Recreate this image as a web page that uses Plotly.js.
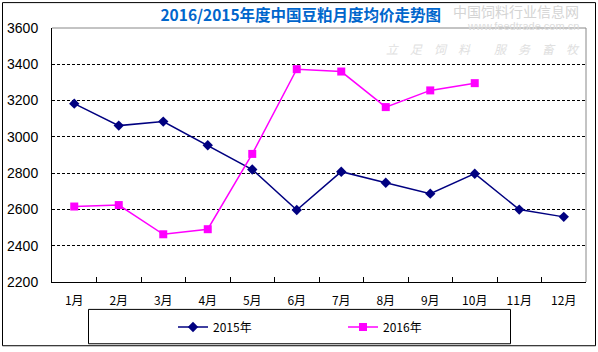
<!DOCTYPE html>
<html><head><meta charset="utf-8">
<script src="https://cdn.plot.ly/plotly-3.0.1.min.js"></script>
<style>html,body{margin:0;padding:0;background:#fff}#chart{width:598px;height:352px}</style>
</head><body><div id="chart"></div>
<script>
const months = ['1月','2月','3月','4月','5月','6月','7月','8月','9月','10月','11月','12月'];
const price2015 = [3183, 3062, 3084, 2954, 2820, 2597, 2808, 2747, 2687, 2797, 2599, 2559];
const price2016 = [2616, 2624, 2463, 2491, 2906, 3373, 3360, 3164, 3256, 3296];
const yTicks = [2200, 2400, 2600, 2800, 3000, 3200, 3400, 3600];

const L = 52, R = 586, T = 28, B = 283;
const px = x => (x - L) / (R - L);
const py = y => (B - y) / (B - T);

const traces = [
  {x: months, y: price2015, name: '2015年', type: 'scatter', mode: 'lines+markers',
   line: {color: '#000080', width: 1.5}, marker: {symbol: 'diamond', size: 8, color: '#000080'}},
  {x: months.slice(0, price2016.length), y: price2016, name: '2016年', type: 'scatter', mode: 'lines+markers',
   line: {color: '#ff00ff', width: 1.5}, marker: {symbol: 'square', size: 8, color: '#ff00ff'}}
];

const layout = {
  width: 598, height: 352,
  margin: {l: L, r: 598 - R, t: T, b: 352 - B},
  paper_bgcolor: '#fff', plot_bgcolor: '#fff',
  showlegend: true,
  title: {text: '<b>2016/2015年度中国豆粕月度均价走势图</b>', x: 0.503, xanchor: 'center', y: 0.955, yanchor: 'middle',
          font: {family: 'Noto Sans CJK SC', size: 15.5, color: '#0066cc'}},
  xaxis: {type: 'category', range: [-0.5, 11.5], showgrid: false, zeroline: false,
          showline: true, linecolor: '#000', linewidth: 1,
          ticks: 'inside', tickson: 'boundaries', ticklen: 5, tickcolor: '#000', ticklabelstandoff: 8,
          tickfont: {family: 'Noto Sans CJK SC', size: 12, color: '#000'}},
  yaxis: {range: [2200, 3600], tickvals: yTicks, showgrid: true, gridcolor: '#000', griddash: '3px,2px', gridwidth: 1,
          zeroline: false, showline: true, linecolor: '#000', linewidth: 1, ticks: '', ticklabelstandoff: 10,
          tickfont: {family: 'Liberation Sans', size: 14, color: '#000'}},
  legend: {orientation: 'h', x: px(173), y: py(327), xanchor: 'left', yanchor: 'middle',
           entrywidth: 125, entrywidthmode: 'pixels', bgcolor: 'rgba(0,0,0,0)',
           font: {family: 'Noto Sans CJK SC', size: 12, color: '#000'}},
  shapes: [
    {type: 'rect', xref: 'paper', yref: 'paper', x0: px(2.5), x1: px(595.5), y0: py(347), y1: py(2.5),
     line: {color: '#000', width: 1}, fillcolor: 'rgba(0,0,0,0)', layer: 'below'},
    {type: 'rect', xref: 'paper', yref: 'paper', x0: px(88.5), x1: px(510.5), y0: py(345), y1: py(310.5),
     line: {color: '#000', width: 1}, fillcolor: 'rgba(0,0,0,0)'},
    {type: 'line', xref: 'paper', yref: 'paper', x0: 0, x1: 1, y0: 1, y1: 1, line: {color: '#888', width: 1}},
    {type: 'line', xref: 'paper', yref: 'paper', x0: 1, x1: 1, y0: 0, y1: 1, line: {color: '#888', width: 1}}
  ],
  annotations: [
    {text: '中国饲料行业信息网', xref: 'paper', yref: 'paper', x: px(581), y: py(11), xanchor: 'right', yanchor: 'middle',
     showarrow: false, font: {family: 'Noto Sans CJK SC', size: 14, color: '#d4d4d4'}},
    {text: 'www.feedtrade.com.cn', xref: 'paper', yref: 'paper', x: px(581), y: py(26), xanchor: 'right', yanchor: 'middle',
     showarrow: false, font: {family: 'Liberation Sans', size: 11, color: '#dcdcdc'}},
    {text: '<i>立　足　饲　料　　服　务　畜　牧</i>', xref: 'paper', yref: 'paper', x: px(582), y: py(49), xanchor: 'right', yanchor: 'middle',
     showarrow: false, font: {family: 'Noto Sans CJK SC', size: 12, color: '#e0e0e0'}}
  ]
};

Plotly.newPlot('chart', traces, layout, {displayModeBar: false, staticPlot: true});
</script></body></html>
